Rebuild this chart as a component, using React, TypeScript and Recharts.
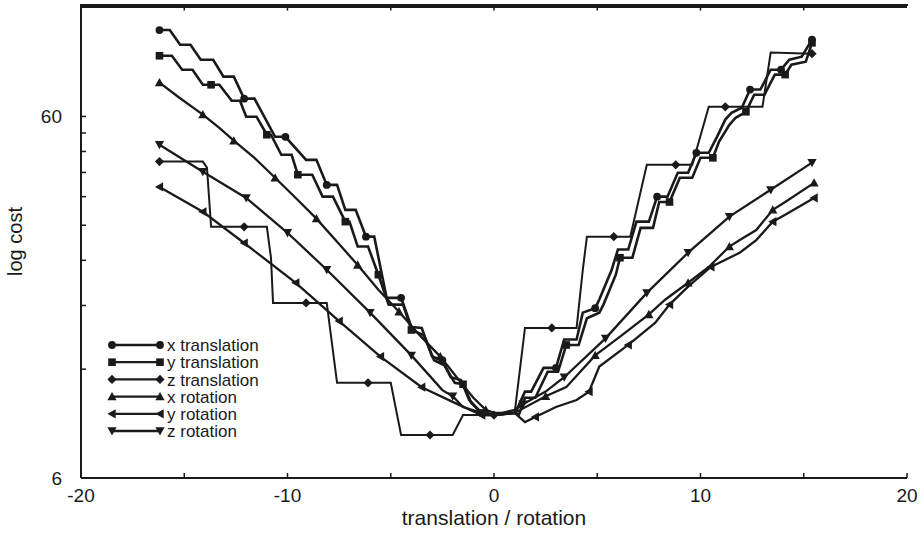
import { Line, LineChart, ReferenceLine, XAxis, YAxis } from "recharts";

if (typeof document !== "undefined") document.body.style.margin = "0";

const INK = "#1a1a1a";
const FONT = "'Liberation Sans', Arial, Helvetica, sans-serif";

// [translation/rotation, cost, has marker]
type Row = [number, number, number];

const xTranslation: Row[] = [
  [-16.2, 104, 1], [-15.7, 104, 0], [-15.2, 94.7, 0], [-14.7, 94.7, 0],
  [-14.2, 86.1, 0], [-13.6, 86.1, 0], [-13.1, 77.3, 0], [-12.6, 77.3, 0],
  [-12.1, 67.2, 1], [-11.6, 67.2, 0], [-10.6, 52.7, 0], [-10.1, 52.7, 1],
  [-9.1, 45.5, 0], [-8.6, 45.5, 0], [-8.1, 38.8, 1], [-7.6, 38.8, 0],
  [-7.2, 33.1, 0], [-6.7, 33.1, 0], [-6.2, 27.9, 1], [-5.8, 27.9, 0],
  [-5.2, 18.9, 0], [-4.5, 18.9, 1], [-4.0, 15.7, 0], [-3.5, 15.6, 0],
  [-3.0, 13.0, 0], [-2.5, 12.7, 1], [-2.1, 11.4, 0], [-1.6, 11.2, 0],
  [-1.2, 9.86, 0], [-0.6, 9.08, 1], [0, 8.96, 0], [1.0, 9.08, 0],
  [1.1, 9.26, 0], [1.5, 10.4, 0], [1.8, 10.4, 0], [2.4, 12.1, 0],
  [3.0, 12.1, 1], [3.4, 14.5, 0], [4.0, 14.5, 0], [4.3, 17.2, 0],
  [4.9, 17.7, 1], [5.1, 18.7, 0], [5.7, 22.6, 0], [6.0, 25.7, 0],
  [6.5, 25.7, 0], [6.9, 30.7, 0], [7.5, 30.7, 0], [7.9, 36.0, 1],
  [8.4, 36.0, 0], [8.9, 41.9, 0], [9.4, 41.9, 0], [9.8, 47.6, 1],
  [10.4, 47.6, 0], [10.8, 52.7, 0], [11.2, 58.8, 0], [11.5, 61.4, 0],
  [12.0, 63.4, 0], [12.4, 71.2, 1], [12.9, 71.2, 0], [13.4, 80.8, 0],
  [13.9, 80.8, 1], [14.3, 86.1, 0], [14.9, 87.8, 0], [15.4, 97.9, 1],
];

const yTranslation: Row[] = [
  [-16.2, 88.3, 1], [-15.6, 88.3, 0], [-15.1, 80.8, 0], [-14.6, 80.8, 0],
  [-14.1, 73.4, 0], [-13.7, 73.4, 1], [-13.3, 73.4, 0], [-12.7, 66.3, 0],
  [-12.3, 66.3, 0], [-12.0, 59.9, 0], [-11.5, 59.9, 0], [-11.0, 53.4, 1],
  [-10.8, 53.4, 0], [-10.3, 47.0, 0], [-9.8, 47.0, 0], [-9.5, 41.4, 1],
  [-8.8, 41.4, 0], [-8.3, 36.0, 0], [-7.8, 36.0, 0], [-7.2, 30.7, 1],
  [-7.0, 30.7, 0], [-6.6, 26.2, 0], [-6.1, 26.2, 0], [-5.6, 21.9, 1],
  [-5.1, 18.1, 0], [-4.4, 18.1, 0], [-4.0, 15.4, 1], [-3.4, 14.9, 0],
  [-2.9, 12.7, 0], [-2.4, 12.3, 0], [-1.9, 11.0, 0], [-1.5, 10.9, 1],
  [-1.1, 9.68, 0], [-0.5, 8.96, 0], [0, 8.96, 0], [1.0, 9.08, 0],
  [1.2, 8.96, 0], [1.5, 10.0, 0], [2.0, 10.0, 0], [2.6, 11.8, 0],
  [3.1, 11.8, 0], [3.5, 14.0, 1], [4.1, 14.0, 0], [4.5, 16.6, 0],
  [5.1, 17.2, 0], [5.3, 18.1, 0], [5.9, 21.9, 0], [6.1, 24.4, 1],
  [6.7, 24.4, 0], [7.1, 29.5, 0], [7.7, 29.5, 0], [8.0, 34.8, 0],
  [8.5, 34.8, 1], [9.0, 40.6, 0], [9.6, 40.6, 0], [10.0, 46.1, 0],
  [10.6, 46.1, 1], [10.9, 51.1, 0], [11.4, 56.9, 0], [11.7, 59.5, 0],
  [12.2, 61.8, 1], [12.6, 68.9, 0], [13.1, 68.9, 0], [13.6, 78.3, 0],
  [14.1, 78.3, 1], [14.4, 83.4, 0], [15.1, 85.0, 0], [15.4, 95.9, 1],
];

const zTranslation: Row[] = [
  [-16.2, 45.0, 1], [-14.1, 45.0, 0], [-13.9, 43.3, 0], [-13.7, 29.7, 0],
  [-12.1, 29.7, 1], [-11.0, 29.7, 0], [-10.8, 24.4, 0], [-10.7, 18.3, 0],
  [-9.1, 18.3, 1], [-8.1, 18.3, 0], [-7.6, 11.0, 0], [-6.1, 11.0, 1],
  [-5.0, 11.0, 0], [-4.5, 7.89, 0], [-3.1, 7.89, 1], [-2.0, 7.89, 0],
  [-1.5, 8.96, 0], [0, 8.96, 1], [1.0, 9.08, 0], [1.5, 15.6, 0],
  [2.8, 15.6, 1], [4.0, 15.6, 0], [4.3, 22.6, 0], [4.5, 27.9, 0],
  [5.8, 27.9, 1], [6.6, 27.9, 0], [7.4, 44.1, 0], [8.8, 44.1, 1],
  [9.6, 44.1, 0], [10.4, 63.8, 0], [11.2, 63.8, 1], [13.0, 63.8, 0],
  [13.4, 90.1, 0], [15.4, 89.5, 1],
];

const xRotation: Row[] = [
  [-16.2, 74.4, 1], [-15.3, 68.0, 0], [-14.1, 60.7, 1], [-13.3, 55.8, 0],
  [-12.6, 51.4, 1], [-11.6, 46.1, 0], [-10.6, 40.6, 1], [-9.6, 35.7, 0],
  [-8.6, 31.3, 1], [-7.6, 27.0, 0], [-6.6, 23.3, 1], [-5.6, 19.9, 0],
  [-4.6, 17.3, 1], [-3.6, 14.9, 0], [-2.6, 13.0, 1], [-1.7, 11.2, 0],
  [-1.0, 10.0, 0], [-0.4, 9.26, 1], [0, 9.08, 0], [1.0, 9.08, 0],
  [2.5, 10.1, 1], [3.5, 10.7, 0], [4.9, 13.1, 1], [6.2, 14.9, 0],
  [7.5, 17.0, 1], [8.3, 18.7, 0], [9.4, 20.8, 1], [10.4, 23.0, 0],
  [11.4, 26.2, 1], [11.9, 27.3, 0], [12.7, 29.1, 0], [13.5, 33.1, 1],
  [14.1, 34.8, 0], [15.5, 39.3, 1],
];

const yRotation: Row[] = [
  [-16.2, 38.3, 1], [-14.1, 32.7, 1], [-12.1, 26.8, 1], [-9.6, 20.8, 1],
  [-7.5, 16.3, 1], [-5.5, 13.0, 1], [-3.5, 10.7, 1], [-1.9, 9.68, 0],
  [-0.6, 8.96, 1], [0, 8.96, 0], [1.0, 9.08, 0], [1.5, 8.57, 0],
  [2.0, 8.85, 1], [3.0, 9.43, 0], [4.0, 9.86, 0], [4.6, 10.4, 1],
  [5.1, 12.2, 0], [6.5, 14.0, 1], [7.8, 16.1, 0], [8.5, 18.1, 1],
  [9.4, 20.3, 0], [10.5, 23.0, 1], [11.9, 25.2, 0], [12.7, 27.3, 0],
  [13.5, 30.7, 1], [14.1, 32.1, 0], [15.5, 35.7, 1],
];

const zRotation: Row[] = [
  [-16.2, 50.1, 1], [-14.1, 42.2, 1], [-12.0, 35.7, 1], [-10.0, 28.6, 1],
  [-8.1, 22.6, 1], [-6.0, 17.2, 1], [-4.0, 13.1, 1], [-2.5, 10.5, 0],
  [-2.0, 10.1, 1], [-1.5, 9.43, 0], [-0.6, 9.08, 0], [0, 8.96, 0],
  [1.0, 9.26, 0], [1.4, 9.6, 1], [2.5, 10.4, 0], [3.4, 11.4, 1],
  [5.4, 14.6, 1], [7.4, 19.5, 1], [9.4, 25.2, 1], [11.4, 31.7, 1],
  [13.4, 37.6, 1], [15.4, 44.7, 1],
];

const seriesNames = [
  "x translation",
  "y translation",
  "z translation",
  "x rotation",
  "y rotation",
  "z rotation",
];
const seriesRows = [xTranslation, yTranslation, zTranslation, xRotation, yRotation, zRotation];
const seriesShapes = ["circle", "square", "diamond", "up", "left", "down"];
const seriesWidths = [2.6, 2.6, 2, 2.3, 2.3, 2.3];

const xTicks = [-20, -15, -10, -5, 0, 5, 10, 15, 20];
const xLabels = [-20, -10, 0, 10, 20];
const yTicks = [6, 12, 18, 24, 30, 36, 42, 48, 54, 60];
const yLabels = [6, 60];
const yDomain: [number, number] = [6, 122];

const toPoints = (rows: Row[]) => rows.map(([x, v, m]) => ({ x, v, m }));

function Marker({ shape, cx, cy, s = 4.6 }: { shape: string; cx: number; cy: number; s?: number }) {
  switch (shape) {
    case "circle":
      return <circle cx={cx} cy={cy} r={s - 0.7} fill={INK} />;
    case "square":
      return <rect x={cx - s + 0.8} y={cy - s + 0.8} width={2 * s - 1.6} height={2 * s - 1.6} fill={INK} />;
    case "diamond":
      return <polygon points={`${cx},${cy - s} ${cx + s},${cy} ${cx},${cy + s} ${cx - s},${cy}`} fill={INK} />;
    case "up":
      return <polygon points={`${cx},${cy - s} ${cx + s},${cy + s * 0.8} ${cx - s},${cy + s * 0.8}`} fill={INK} />;
    case "left":
      return <polygon points={`${cx - s},${cy} ${cx + s * 0.8},${cy - s} ${cx + s * 0.8},${cy + s}`} fill={INK} />;
    default:
      return <polygon points={`${cx},${cy + s} ${cx + s},${cy - s * 0.8} ${cx - s},${cy - s * 0.8}`} fill={INK} />;
  }
}

const makeDot = (shape: string) => (props: any) => {
  const { cx, cy, payload, index } = props;
  if (!payload || !payload.m || cx == null || cy == null) return <g key={`e${index}`} />;
  return (
    <g key={`m${index}`}>
      <Marker shape={shape} cx={cx} cy={cy} />
    </g>
  );
};

function LegendBox() {
  return (
    <svg
      width={190}
      height={108}
      style={{ position: "absolute", left: 108, top: 336, fontFamily: FONT, overflow: "visible" }}
    >
      {seriesNames.map((name, i) => {
        const y = 9 + i * 17.2;
        return (
          <g key={name}>
            <line x1={4} x2={52} y1={y} y2={y} stroke={INK} strokeWidth={2.3} />
            <Marker shape={seriesShapes[i]} cx={4} cy={y} />
            <Marker shape={seriesShapes[i]} cx={52} cy={y} />
            <text x={59} y={y} dy="0.36em" fontSize={17} fill={INK}>
              {name}
            </text>
          </g>
        );
      })}
    </svg>
  );
}

export default function App() {
  return (
    <div style={{ position: "relative", fontFamily: FONT, background: "#fff", width: 924, height: 533 }}>
      <LineChart width={924} height={533} margin={{ top: 5, right: 17, bottom: 0, left: 0 }}>
        <XAxis
          xAxisId="b"
          dataKey="x"
          type="number"
          domain={[-20, 20]}
          allowDataOverflow
          ticks={xTicks}
          tickFormatter={(v: number) => (xLabels.includes(v) ? String(v) : "")}
          tickSize={-5}
          tickMargin={16}
          height={55}
          axisLine={{ stroke: INK, strokeWidth: 2 }}
          tickLine={{ stroke: INK, strokeWidth: 1.5 }}
          tick={{ fill: INK, fontSize: 19, fontFamily: FONT }}
          label={{
            value: "translation / rotation",
            position: "insideBottom",
            offset: 8,
            fill: INK,
            fontSize: 21,
            fontFamily: FONT,
          }}
        />
        <YAxis
          yAxisId="l"
          type="number"
          scale="log"
          domain={yDomain}
          allowDataOverflow
          ticks={yTicks}
          tickFormatter={(v: number) => (yLabels.includes(v) ? String(v) : "")}
          tickSize={-5}
          tickMargin={24}
          width={81}
          axisLine={{ stroke: INK, strokeWidth: 2 }}
          tickLine={{ stroke: INK, strokeWidth: 1.5 }}
          tick={{ fill: INK, fontSize: 19, fontFamily: FONT }}
          label={{
            value: "log cost",
            angle: -90,
            position: "insideLeft",
            offset: 15,
            fill: INK,
            fontSize: 20,
            fontFamily: FONT,
            style: { textAnchor: "middle" },
          }}
        />
        <YAxis
          yAxisId="r"
          orientation="right"
          type="number"
          scale="log"
          domain={yDomain}
          allowDataOverflow
          ticks={yLabels}
          tickFormatter={() => ""}
          tickLine={false}
          width={0}
          axisLine={{ stroke: INK, strokeWidth: 2 }}
        />
        {/* top frame edge and its inward ticks */}
        <ReferenceLine
          xAxisId="b"
          yAxisId="l"
          y={120.5}
          stroke={INK}
          strokeWidth={2}
          ifOverflow="visible"
        />
        {xTicks.slice(1, -1).map((t) => (
          <ReferenceLine
            key={`tt${t}`}
            xAxisId="b"
            yAxisId="l"
            segment={[
              { x: t, y: yDomain[1] },
              { x: t, y: yDomain[1] * 0.965 },
            ]}
            stroke={INK}
            strokeWidth={1.5}
            ifOverflow="visible"
          />
        ))}
        {seriesNames.map((name, i) => (
          <Line
            key={name}
            name={name}
            xAxisId="b"
            yAxisId="l"
            data={toPoints(seriesRows[i])}
            dataKey="v"
            type="linear"
            stroke={INK}
            strokeWidth={seriesWidths[i]}
            strokeLinejoin="miter"
            dot={makeDot(seriesShapes[i])}
            activeDot={false}
            isAnimationActive={false}
          />
        ))}
      </LineChart>
      <div
        style={{ position: "absolute", left: 80, top: 4, width: 828, height: 2, background: INK }}
      />
      <LegendBox />
    </div>
  );
}
